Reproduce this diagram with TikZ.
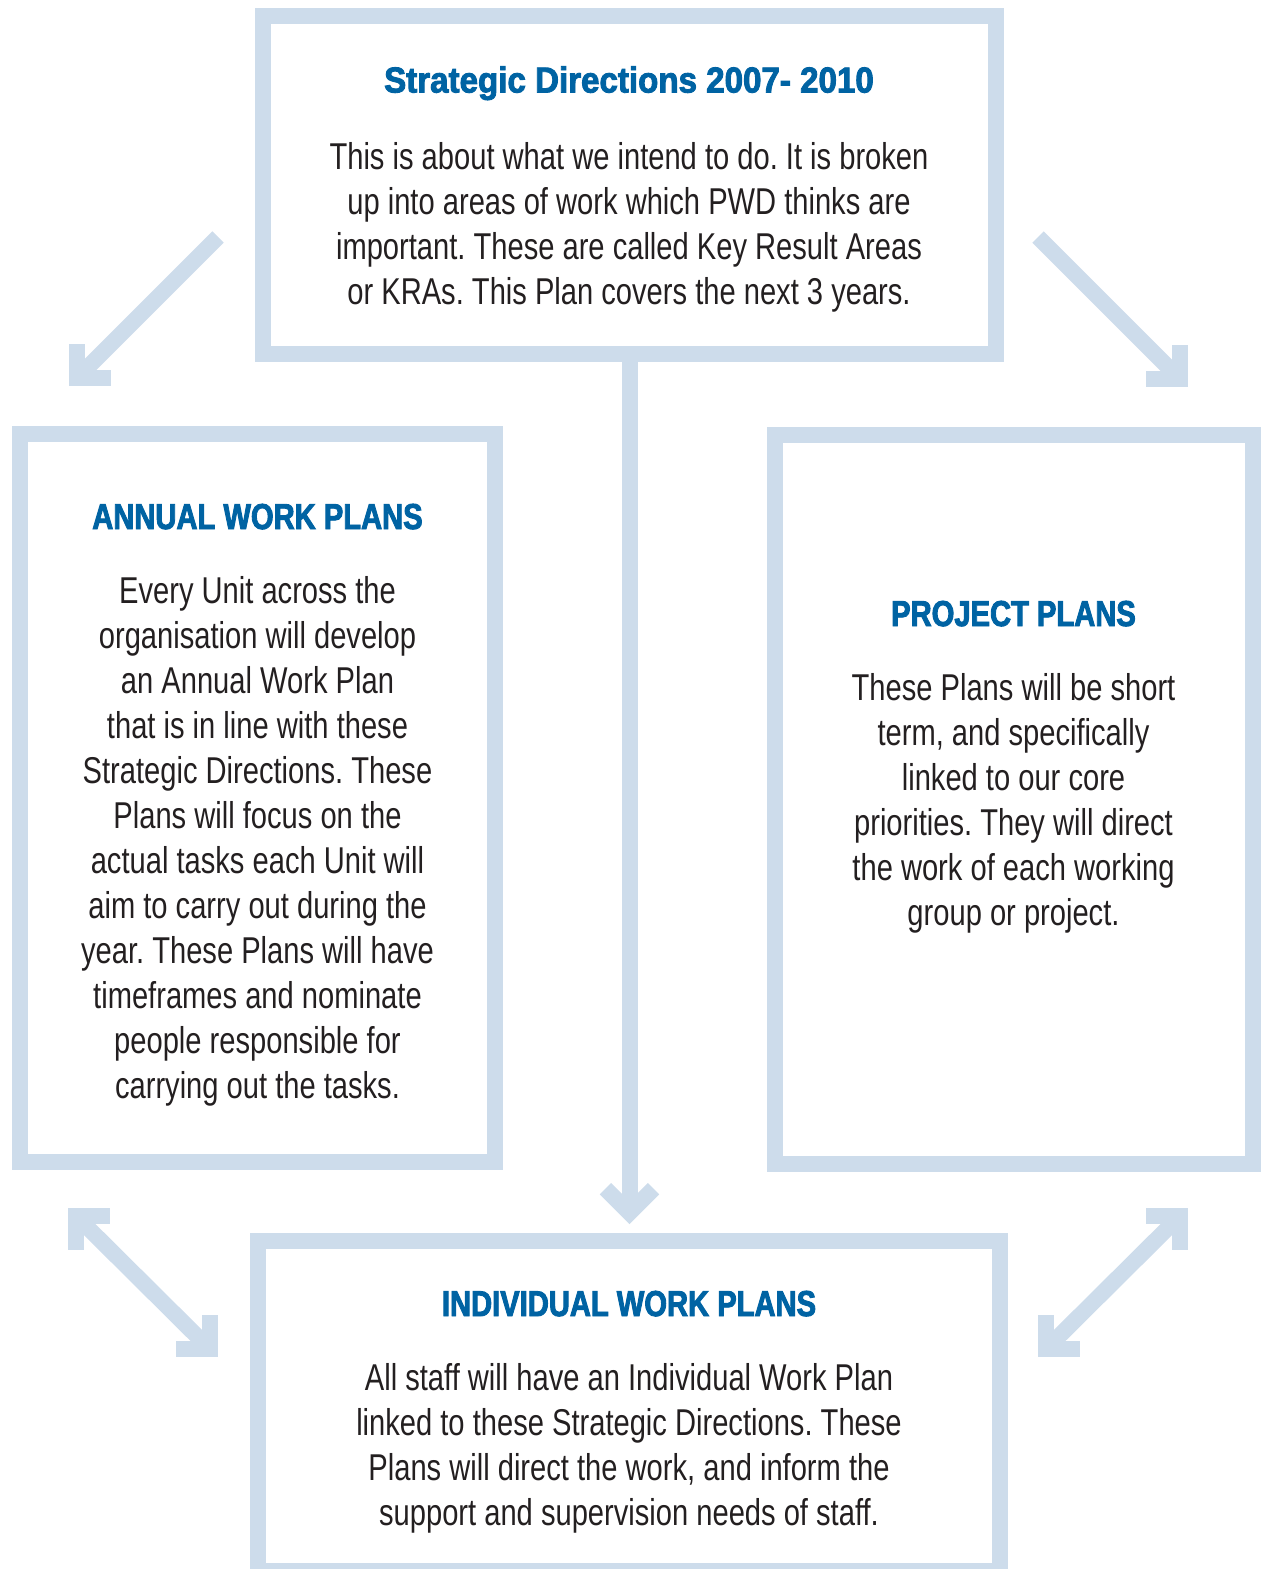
\documentclass[tikz,border=0pt]{standalone}
\usepackage{fontspec}
\setmainfont{Liberation Sans}[FakeStretch=0.78]
\newfontfamily\headfont{Liberation Sans}[FakeStretch=0.81, FakeBold=2.5]
\newfontfamily\headwidefont{Liberation Sans}[FakeStretch=0.92, FakeBold=2.5]
\frenchspacing
\usepackage{xcolor}
\usepackage{tikz}
\usetikzlibrary{positioning}

\definecolor{frameblue}{RGB}{205,220,235}
\definecolor{headblue}{RGB}{0,99,163}
\definecolor{bodygray}{RGB}{35,31,32}

\begin{document}
\begin{tikzpicture}[
    x=0.75pt, y=-0.75pt,
    frame/.style={rectangle, draw=frameblue, line width=12pt, inner sep=0pt},
    head/.style={font=\headfont\bfseries\fontsize{27}{32}\selectfont, text=headblue, anchor=base, inner sep=0pt},
    body/.style={font=\fontsize{28}{33.75}\selectfont, text=bodygray, align=center, inner sep=0pt},
    link/.style={draw=frameblue, line width=12pt, shorten >=9pt},
    chev/.pic={\draw[frameblue, line width=12pt, line join=miter] (-35.3,24) -- (-11.3,0) -- (-35.3,-24);}
]
    \useasboundingbox (0,0) rectangle (1261,1569);

    % the four plan boxes
    \node[frame, minimum width=549.75pt, minimum height=253.5pt] (strat) at (629.5,185) {};
    \node[frame, minimum width=356.6pt, minimum height=546pt] (annual) at (257.25,798) {};
    \node[frame, minimum width=358.1pt, minimum height=547.1pt] (project) at (1013.75,799.25) {};
    \node[frame, minimum width=556.5pt, minimum height=247.5pt] (indiv) at (629,1406) {};

    % titles and texts
    \node[head, font=\headwidefont\bfseries\fontsize{27}{32}\selectfont] (strattitle) at (629,92.5) {Strategic Directions 2007- 2010};
    \node[body, below=37.5pt of strattitle.base] (strattext) {This is about what we intend to do. It is broken\\
        up into areas of work which PWD thinks are\\
        important. These are called Key Result Areas\\
        or KRAs. This Plan covers the next 3 years.};

    \node[head] (annualtitle) at (257.5,529) {ANNUAL WORK PLANS};
    \node[body, below=35.25pt of annualtitle.base] (annualtext) {Every Unit across the\\
        organisation will develop\\
        an Annual Work Plan\\
        that is in line with these\\
        Strategic Directions. These\\
        Plans will focus on the\\
        actual tasks each Unit will\\
        aim to carry out during the\\
        year. These Plans will have\\
        timeframes and nominate\\
        people responsible for\\
        carrying out the tasks.};

    \node[head] (projecttitle) at (1013.5,626) {PROJECT PLANS};
    \node[body, below=35.25pt of projecttitle.base] (projecttext) {These Plans will be short\\
        term, and specifically\\
        linked to our core\\
        priorities. They will direct\\
        the work of each working\\
        group or project.};

    \node[head] (indivtitle) at (629,1316) {INDIVIDUAL WORK PLANS};
    \node[body, below=35.25pt of indivtitle.base] (indivtext) {All staff will have an Individual Work Plan\\
        linked to these Strategic Directions. These\\
        Plans will direct the work, and inform the\\
        support and supervision needs of staff.};

    % arrow ends
    \coordinate (downtip) at (629.5,1224);
    \coordinate (tltail) at (218,237);
    \coordinate (tltip) at (69,386);
    \coordinate (trtail) at (1038,237);
    \coordinate (trtip) at (1188,387);
    \coordinate (blup) at (68,1208);
    \coordinate (bldown) at (218,1357);
    \coordinate (brup) at (1188,1208);
    \coordinate (brdown) at (1038,1357);

    % connectors
    \draw[link] (strat.south) -- (downtip);
    \pic[rotate=-90] at (downtip) {chev};

    \draw[link] (tltail) -- (tltip);
    \pic[rotate=-135] at (tltip) {chev};
    \draw[link] (trtail) -- (trtip);
    \pic[rotate=-45] at (trtip) {chev};

    \draw[link, shorten <=9pt] (blup) -- (bldown);
    \pic[rotate=135] at (blup) {chev};
    \pic[rotate=-45] at (bldown) {chev};
    \draw[link, shorten <=9pt] (brup) -- (brdown);
    \pic[rotate=45] at (brup) {chev};
    \pic[rotate=-135] at (brdown) {chev};
\end{tikzpicture}
\end{document}
